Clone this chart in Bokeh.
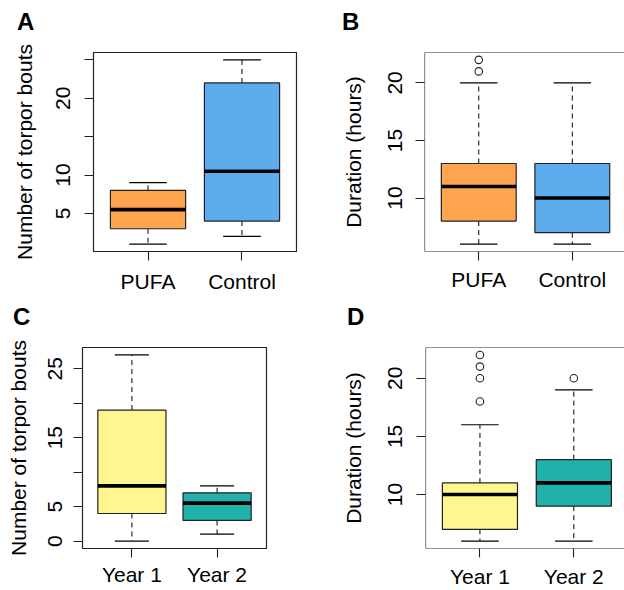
from bokeh.plotting import figure
from bokeh.models import Range1d, FixedTicker, Span
from bokeh.core.properties import value
from bokeh.layouts import row, column
from bokeh.embed import file_html
from bokeh.resources import INLINE

FONT = "Liberation Sans"
FS = "21px"

# ---------------- data ----------------
pos = [1, 2]

# Panel A: number of torpor bouts by diet
a_groups = ["PUFA", "Control"]
a_low = [1, 2]
a_q1 = [3, 4]
a_med = [5.5, 10.5]
a_q3 = [8, 22]
a_high = [9, 25]
a_out_x = []
a_out_y = []
a_ticks = [5, 10, 15, 20, 25]
a_hidden = [15, 25]

# Panel B: torpor bout duration by diet
b_groups = ["PUFA", "Control"]
b_low = [6, 6]
b_q1 = [8, 7]
b_med = [11, 10]
b_q3 = [13, 13]
b_high = [20, 20]
b_out_x = [1, 1]
b_out_y = [21, 22]
b_ticks = [10, 15, 20]
b_hidden = []

# Panel C: number of torpor bouts by year
c_groups = ["Year 1", "Year 2"]
c_low = [0, 1]
c_q1 = [4, 3]
c_med = [8, 5.5]
c_q3 = [19, 7]
c_high = [27, 8]
c_out_x = []
c_out_y = []
c_ticks = [0, 5, 10, 15, 20, 25]
c_hidden = [10, 20]

# Panel D: torpor bout duration by year
d_groups = ["Year 1", "Year 2"]
d_low = [6, 6]
d_q1 = [7, 9]
d_med = [10, 11]
d_q3 = [11, 13]
d_high = [16, 19]
d_out_x = [1, 1, 1, 1, 2]
d_out_y = [18, 20, 21, 22, 20]
d_ticks = [10, 15, 20]
d_hidden = []

diet_colors = ["#FFA54F", "#5CACEE"]
year_colors = ["#FFF68F", "#20B2AA"]

panel_letters = ["A", "B", "C", "D"]

W = 312
HEAD_H = 36
H = 295 - HEAD_H
BOXW = 0.8
STAPLE = 0.4


def make_header(letter, lx):
    h = figure(frame_width=W, frame_height=HEAD_H, output_backend="svg",
               toolbar_location=None, title=None,
               x_range=Range1d(0, W), y_range=Range1d(0, HEAD_H),
               x_axis_type=None, y_axis_type=None,
               min_border_left=0, min_border_right=0, min_border_top=0, min_border_bottom=0,
               background_fill_color="white", border_fill_color="white")
    h.outline_line_color = None
    h.grid.visible = False
    h.text(x=[lx], y=[HEAD_H - 20.5], text=[letter], text_font=value(FONT),
           text_font_style="bold", text_font_size="24px", text_color="black",
           text_align="left", text_baseline="middle")
    return h


def make_panel(groups, low, q1, med, q3, high, out_x, out_y, colors, ylabel,
               yticks, hidden, xr, yr, mb, stand, full_box):
    p = figure(width=W, height=H, output_backend="svg", toolbar_location=None,
               x_range=Range1d(*xr), y_range=Range1d(*yr),
               min_border_left=mb[0], min_border_right=mb[1],
               min_border_top=mb[2] - HEAD_H, min_border_bottom=mb[3],
               background_fill_color="white", border_fill_color="white")
    p.grid.visible = False

    xl = [x - BOXW / 2 for x in pos]
    xrr = [x + BOXW / 2 for x in pos]
    sl = [x - STAPLE / 2 for x in pos]
    sr = [x + STAPLE / 2 for x in pos]

    # whiskers (dashed)
    p.segment(x0=pos, y0=q3, x1=pos, y1=high, line_color="black",
              line_width=1, line_dash="5 4")
    p.segment(x0=pos, y0=q1, x1=pos, y1=low, line_color="black",
              line_width=1, line_dash="5 4")
    # staples
    p.segment(x0=sl, y0=high, x1=sr, y1=high, line_color="black", line_width=1.2)
    p.segment(x0=sl, y0=low, x1=sr, y1=low, line_color="black", line_width=1.2)
    # boxes
    p.vbar(x=pos, width=BOXW, bottom=q1, top=q3, fill_color=colors,
           line_color="#222222", line_width=1.2)
    # medians
    p.segment(x0=xl, y0=med, x1=xrr, y1=med, line_color="black", line_width=3.6)
    # outliers
    if out_x:
        p.scatter(x=out_x, y=out_y, marker="circle", size=7.5,
                  fill_color=None, line_color="#222222", line_width=1.1)

    # frame
    if full_box:
        p.outline_line_color = "#222222"
        p.outline_line_width = 1.2
    else:
        p.outline_line_color = None
        p.add_layout(Span(location=yr[1], dimension="width", line_color="#222222", line_width=1.2))
        p.add_layout(Span(location=yr[0], dimension="width", line_color="#222222", line_width=1.2))
        p.add_layout(Span(location=xr[0], dimension="height", line_color="#222222", line_width=1.2))

    for ax in (p.xaxis[0], p.yaxis[0]):
        ax.axis_line_color = None
        ax.major_tick_out = 9
        ax.major_tick_in = 0
        ax.major_tick_line_color = "#222222"
        ax.major_tick_line_width = 1.1
        ax.minor_tick_line_color = None
        ax.major_label_text_font = FONT
        ax.major_label_text_font_size = FS
        ax.major_label_text_color = "black"

    p.xaxis.ticker = FixedTicker(ticks=pos)
    p.xaxis.major_label_overrides = {x: g for x, g in zip(pos, groups)}
    p.xaxis.major_label_standoff = stand[0]

    p.yaxis.ticker = FixedTicker(ticks=yticks)
    p.yaxis.major_label_overrides = {t: "" for t in hidden}
    p.yaxis.major_label_orientation = "vertical"
    p.yaxis.major_label_standoff = stand[1]
    p.yaxis.axis_label = ylabel
    p.yaxis.axis_label_text_font = FONT
    p.yaxis.axis_label_text_font_size = FS
    p.yaxis.axis_label_text_font_style = "normal"
    p.yaxis.axis_label_text_color = "black"
    p.yaxis.axis_label_standoff = stand[2]
    return p


pA = make_panel(a_groups, a_low, a_q1, a_med, a_q3, a_high, a_out_x, a_out_y,
                diet_colors, "Number of torpor bouts", a_ticks, a_hidden,
                (0.42, 2.58), (0.04, 25.96), (93, 16, 52, 43), (9, 14, 18), True)
pB = make_panel(b_groups, b_low, b_q1, b_med, b_q3, b_high, b_out_x, b_out_y,
                diet_colors, "Duration (hours)", b_ticks, b_hidden,
                (0.42, 2.558), (5.36, 22.64), (112, 0, 52, 41), (7, 13, 21), False)
pC = make_panel(c_groups, c_low, c_q1, c_med, c_q3, c_high, c_out_x, c_out_y,
                year_colors, "Number of torpor bouts", c_ticks, c_hidden,
                (0.42, 2.58), (-1.08, 28.08), (82, 46, 52, 40), (5, 11, 16), True)
pD = make_panel(d_groups, d_low, d_q1, d_med, d_q3, d_high, d_out_x, d_out_y,
                year_colors, "Duration (hours)", d_ticks, d_hidden,
                (0.42, 2.54), (5.36, 22.64), (113, 0, 52, 41), (7, 14, 21), False)

hA = make_header(panel_letters[0], 16.5)
hB = make_header(panel_letters[1], 29.5)
hC = make_header(panel_letters[2], 12.5)
hD = make_header(panel_letters[3], 34.5)

layout = column(row(hA, hB), row(pA, pB), row(hC, hD), row(pC, pD))
open("out.html", "w").write(file_html(layout, INLINE))
